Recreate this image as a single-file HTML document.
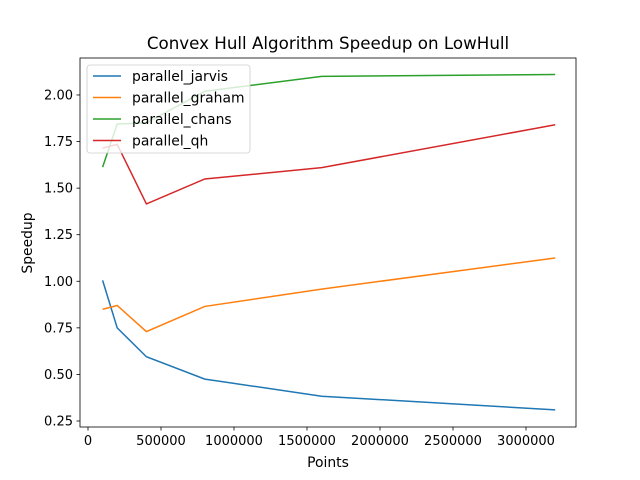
<!DOCTYPE html>
<html><head><meta charset="utf-8"><style>body{margin:0;background:#fff}svg{display:block;font-family:"DejaVu Sans","Liberation Sans",sans-serif}</style></head>
<body>
<svg id="chart" width="640" height="480">
<rect width="640" height="480" fill="#fff"/>
<text x="328" y="49" font-size="16.7" text-anchor="middle">Convex Hull Algorithm Speedup on LowHull</text>
<g id="ticks"></g>
<g id="series"></g>
<rect x="80" y="58" width="496" height="369" fill="none" stroke="#000" stroke-width="0.8"/>
<text x="328" y="467" font-size="13.9" text-anchor="middle">Points</text>
<text x="32" y="243" font-size="13.9" text-anchor="middle" transform="rotate(-90 32 243)">Speedup</text>
<g id="legend"></g>
</svg>
<script>
const points=[100000,200000,400000,800000,1600000,3200000];
const seriesNames=["parallel_jarvis","parallel_graham","parallel_chans","parallel_qh"];
const jarvis=[1.005,0.75,0.595,0.475,0.383,0.31];
const graham=[0.85,0.87,0.73,0.865,0.958,1.125];
const chans=[1.613,1.844,1.85,2.02,2.10,2.11];
const qh=[1.715,1.735,1.415,1.549,1.61,1.84];
const xTicks=[0,500000,1000000,1500000,2000000,2500000,3000000];
const yTicks=[0.25,0.5,0.75,1.0,1.25,1.5,1.75,2.0];
const colors=["#1f77b4","#ff7f0e","#2ca02c","#d62728"];
const NS="http://www.w3.org/2000/svg";
const xs=v=>88+v*438/3000000;
const ys=v=>421-(v-0.25)*186.3;
function el(t,a,p){const e=document.createElementNS(NS,t);for(const k in a)e.setAttribute(k,a[k]);p.appendChild(e);return e;}
const tk=document.getElementById('ticks');
xTicks.forEach(v=>{const x=xs(v);
const l=el('line',{x1:x,x2:x,y1:427,y2:430.5,stroke:'#000','stroke-width':0.8},tk);


const t=el('text',{x:x,y:445,'font-size':13,'text-anchor':'middle'},tk);t.textContent=String(v);

});
yTicks.forEach(v=>{const y=ys(v);
const l=el('line',{x1:76.5,x2:80,y1:y,y2:y,stroke:'#000','stroke-width':0.8},tk);


const t=el('text',{x:73,y:y+4.5,'font-size':13,'text-anchor':'end'},tk);t.textContent=v.toFixed(2);

});
const sg=document.getElementById('series');
[jarvis,graham,chans,qh].forEach((d,i)=>{
const p=el('polyline',{points:d.map((v,j)=>xs(points[j])+','+ys(v)).join(' '),fill:'none',stroke:colors[i],'stroke-width':1.5},sg);

});
const lg=document.getElementById('legend');
const bx=el('rect',{x:87,y:65,width:163,height:88,rx:3,fill:'#fff','fill-opacity':0.8,stroke:'#ccc','stroke-width':0.8},lg);


seriesNames.forEach((n,i)=>{const y=76+i*21.5;
const l=el('line',{x1:93,x2:121,y1:y,y2:y,stroke:colors[i],'stroke-width':1.5},lg);


const t=el('text',{x:132,y:y+5,'font-size':13.9},lg);t.textContent=n;

});
</script>
</body></html>
